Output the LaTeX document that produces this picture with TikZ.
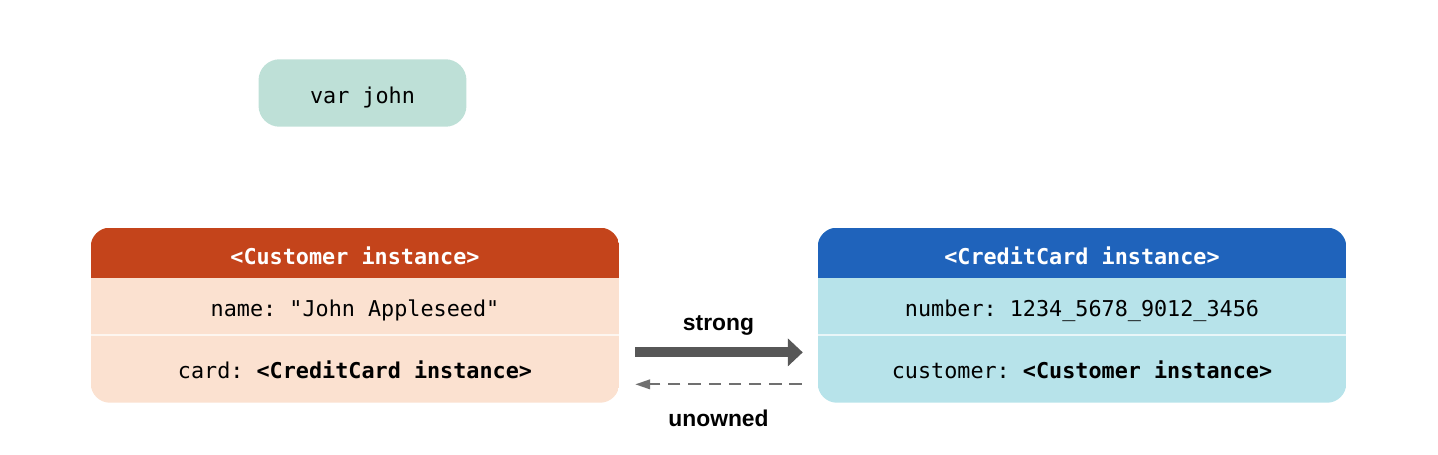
\documentclass[tikz,border=0pt]{standalone}
\usepackage{fontspec}
\setmonofont{DejaVu Sans Mono}
\setsansfont{Liberation Sans}
\usetikzlibrary{positioning,arrows.meta,backgrounds}

\definecolor{varfill}{HTML}{BEE0D7}
\definecolor{custhd}{HTML}{C4441B}
\definecolor{custbody}{HTML}{FBE1D0}
\definecolor{cardhd}{HTML}{1F63BB}
\definecolor{cardbody}{HTML}{B7E3EA}
\definecolor{arrowgray}{HTML}{575757}

\tikzset{
  code/.style={font=\fontsize{12.4}{15}\selectfont\ttfamily, inner sep=0pt,
    text height=13.5pt, text depth=2pt},
  varbox/.style={code, fill=varfill, rounded corners=12pt,
    minimum width=4.16cm, minimum height=1.35cm},
  hdrow/.style={code, text=white, minimum width=10.56cm, minimum height=1cm,
    text height=14.5pt, text depth=1pt},
  row/.style={code, minimum width=10.56cm},
  lbl/.style={font=\fontsize{13}{15}\selectfont\sffamily\bfseries, inner sep=0pt}
}

\begin{document}
\begin{tikzpicture}[x=0.02cm, y=-0.02cm]
	\useasboundingbox (0,0) rectangle (1438,454);

	\node[varbox] (john) at (362.5, 93) {var john};

	% Customer
	\node[hdrow] (custhead) at (355, 253) {\textbf{<Customer instance>}};
	\node[row, minimum height=1.12cm, below=0pt of custhead] (custname) {name: "John Appleseed"};
	\node[row, minimum height=1.34cm, below=0pt of custname] (custcard) {card: \textbf{<CreditCard instance>}};

	% CreditCard
	\node[hdrow] (cardhead) at (1082, 253) {\textbf{<CreditCard instance>}};
	\node[row, minimum height=1.12cm, below=0pt of cardhead] (cardnum) {number: 1234\_5678\_9012\_3456};
	\node[row, minimum height=1.34cm, below=0pt of cardnum] (cardcust) {customer: \textbf{<Customer instance>}};

	\begin{scope}[on background layer]
		\begin{scope}
			\clip[rounded corners=11pt] (custhead.north west) rectangle (custcard.south east);
			\fill[custbody] (custhead.north west) rectangle (custcard.south east);
			\fill[custhd] (custhead.north west) rectangle (custhead.south east);
			\draw[white, opacity=.7, line width=1.2pt] (custname.south west) -- (custname.south east);
		\end{scope}
		\begin{scope}
			\clip[rounded corners=11pt] (cardhead.north west) rectangle (cardcust.south east);
			\fill[cardbody] (cardhead.north west) rectangle (cardcust.south east);
			\fill[cardhd] (cardhead.north west) rectangle (cardhead.south east);
			\draw[white, opacity=.7, line width=1.2pt] (cardnum.south west) -- (cardnum.south east);
		\end{scope}
	\end{scope}

	% references
	\draw[arrowgray, line width=5.7pt, -{Triangle[length=8.5pt, width=15.4pt]},
		shorten <=9.1pt, shorten >=8.5pt]
		([yshift=9.4pt]custcard.east) -- ([yshift=9.4pt]cardcust.west)
		node[lbl, black, midway, above=7pt] (strong) {strong};
	\draw[arrowgray!85!white, line width=1.1pt, dash pattern=on 7pt off 4.5pt,
		-{Triangle[length=8.5pt, width=5.5pt]}, shorten <=9.1pt, shorten >=9.1pt]
		([yshift=-8.8pt]cardcust.west) -- ([yshift=-8.8pt]custcard.east)
		node[lbl, black, midway, below=14pt] (unowned) {unowned};
\end{tikzpicture}
\end{document}
